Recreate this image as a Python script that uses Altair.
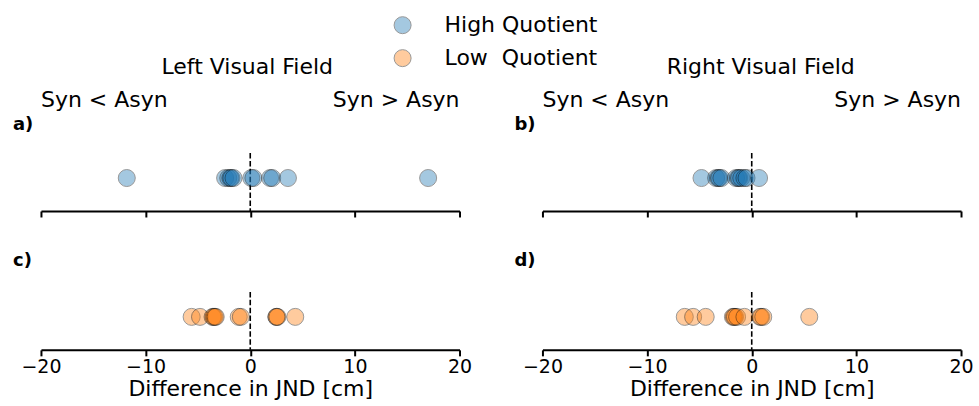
import altair as alt
import pandas as pd

# ---- data ----
groups = ["High Quotient", "Low\u00a0 Quotient"]
colors = ["#1f77b4", "#ff7f0e"]

# a) High quotient, left visual field
a_vals = [-11.8, -2.4, -2.1, -1.9, -1.8, -1.6, 0.1, 0.3, 1.9, 2.1, 3.6, 17.0]
# b) High quotient, right visual field
b_vals = [-4.8, -3.4, -3.2, -3.1, -2.9, -1.5, -1.3, -1.2, -1.0, -0.7, -0.5, 0.7]
# c) Low quotient, left visual field
c_vals = [-5.6, -4.8, -3.6, -3.5, -3.4, -3.3, -1.1, -0.9, 2.5, 2.5, 2.6, 4.3]
# d) Low quotient, right visual field
d_vals = [-6.4, -5.6, -4.4, -1.8, -1.7, -1.6, -1.4, -0.7, 0.8, 0.9, 1.1, 5.5]

x_ticks = [-20, -10, 0, 10, 20]
panel_labels = ["a)", "b)", "c)", "d)"]
field_titles = ["Left Visual Field", "Right Visual Field"]
side_labels = ["Syn < Asyn", "Syn > Asyn"]
x_title = "Difference in JND [cm]"

W, H = 419, 58
FONT = "DejaVu Sans"


def panel(vals, group, label, top_row, field_title=None, title_dx=0):
    df = pd.DataFrame({"diff": vals, "y": [0] * len(vals), "group": [group] * len(vals)})
    if top_row:
        axis = alt.Axis(values=x_ticks, labels=False, title=None, grid=False,
                        domainColor="black", domainWidth=2, tickColor="black",
                        tickWidth=2, tickSize=6)
    else:
        axis = alt.Axis(values=x_ticks, title=x_title, grid=False,
                        domainColor="black", domainWidth=2, tickColor="black",
                        tickWidth=2, tickSize=6, labelFontSize=19, labelColor="black",
                        labelPadding=2, titleFontSize=22, titleFontWeight="normal",
                        titleColor="black", titleBaseline="alphabetic", titleY=46,
                        labelFlush=False)
    x = alt.X("diff:Q", scale=alt.Scale(domain=[-20, 20], nice=False), axis=axis)
    y = alt.Y("y:Q", scale=alt.Scale(domain=[-1.32, 1]), axis=None)

    pts = alt.Chart(df).mark_circle(size=290, opacity=0.4, stroke="black", strokeWidth=1).encode(
        x=x, y=y,
        color=alt.Color("group:N", scale=alt.Scale(domain=groups, range=colors),
                        legend=alt.Legend(title=None, orient="none", legendX=351, legendY=-139,
                                          labelFontSize=22, labelFont=FONT, labelColor="black",
                                          symbolSize=290, symbolStrokeColor="black",
                                          symbolStrokeWidth=1, symbolOpacity=0.4,
                                          labelOffset=31, rowPadding=11)),
    )
    zero = alt.Chart(pd.DataFrame({"z": [0]})).mark_rule(
        color="black", strokeWidth=1.6, strokeDash=[5.5, 2.4]).encode(x="z:Q")

    lab_df = pd.DataFrame({"t": [label]})
    lab = alt.Chart(lab_df).mark_text(align="left", baseline="alphabetic", fontSize=18,
                                      fontWeight="bold", font=FONT, color="black").encode(
        text="t:N", x=alt.value(-28), y=alt.value(-23 if top_row else -26))
    layers = [zero, pts, lab]
    if top_row:
        left = alt.Chart(pd.DataFrame({"t": [side_labels[0]]})).mark_text(
            align="left", baseline="alphabetic", fontSize=22, font=FONT, color="black").encode(
            text="t:N", x=alt.value(0), y=alt.value(-46))
        right = alt.Chart(pd.DataFrame({"t": [side_labels[1]]})).mark_text(
            align="right", baseline="alphabetic", fontSize=22, font=FONT, color="black").encode(
            text="t:N", x=alt.value(W), y=alt.value(-46))
        ttl = alt.Chart(pd.DataFrame({"t": [field_title]})).mark_text(
            align="center", baseline="alphabetic", fontSize=22, font=FONT, color="black").encode(
            text="t:N", x=alt.value(W / 2 + title_dx), y=alt.value(-79))
        layers += [left, right, ttl]
    return alt.layer(*layers).properties(width=W, height=H)


pa = panel(a_vals, groups[0], panel_labels[0], True, field_titles[0], -3)
pb = panel(b_vals, groups[0], panel_labels[1], True, field_titles[1], 9)
pc = panel(c_vals, groups[1], panel_labels[2], False)
pd_ = panel(d_vals, groups[1], panel_labels[3], False)

chart = alt.concat(pa, pb, pc, pd_, columns=2, spacing={"row": 81, "column": 83},
                   bounds="flush").properties(
    padding={"left": 13, "top": 14, "right": 5, "bottom": 5}
).configure(font=FONT).configure_view(stroke=None).configure_axis(
    labelFont=FONT, titleFont=FONT
)

chart.save("out.html", embed_options={"renderer": "svg", "actions": False})
